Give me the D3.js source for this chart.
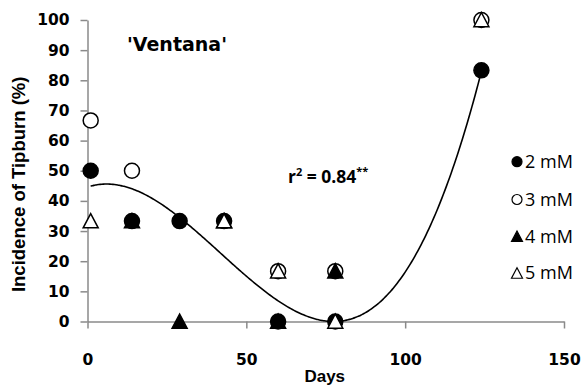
<!DOCTYPE html>
<html>
<head>
<meta charset="utf-8">
<script src="https://cdn.jsdelivr.net/npm/d3@7"></script>
<style>
  html, body { margin: 0; padding: 0; background: #fff; }
  svg { display: block; }
</style>
</head>
<body>
<svg id="chart" width="583" height="387"></svg>
<script>
// Sampling days and tipburn incidence (%) for each calcium concentration
const days = [1, 14, 29, 43, 60, 78, 124];
const mM2 = [50, 33.3, 33.3, 33.3, 0, 0, 83.3];
const mM3 = [66.7, 50, null, null, 16.7, 16.7, 100];
const mM4 = [null, 33.3, 0, 33.3, 0, 16.7, null];
const mM5 = [33.3, null, null, 33.3, 16.7, 0, 100];

const seriesNames = ["2 mM", "3 mM", "4 mM", "5 mM"];
const xTicks = [0, 50, 100, 150];
const yTicks = [0, 10, 20, 30, 40, 50, 60, 70, 80, 90, 100];

// Cubic trend: a*x^3 + b*x^2 + c*x + d, fitted over days 1..124
const trendCoef = [2.495e-4, -0.03125, 0.3481, 44.58];
const trendDomain = [1, 124];

const svg = d3.select("#chart");
const x = d3.scaleLinear().domain([0, 150]).range([87.5, 564]);
const y = d3.scaleLinear().domain([0, 100]).range([321.5, 20]);

const axisColor = "#8a8a8a";
const tickFont = "'DejaVu Sans', Verdana, sans-serif";

// Y axis
const gy = svg.append("g")
  .attr("transform", `translate(${x(0)},0)`)
  .call(d3.axisLeft(y).tickValues(yTicks).tickSize(7).tickSizeOuter(0).tickPadding(11));
gy.select(".domain").attr("stroke", axisColor).attr("stroke-width", 1.5);
gy.selectAll(".tick line").attr("stroke", axisColor).attr("stroke-width", 1.5);
gy.selectAll(".tick text")
  .attr("fill", "#000").style("font-family", tickFont)
  .style("font-size", "15.5px").style("font-weight", "bold");

// X axis
const gx = svg.append("g")
  .attr("transform", `translate(0,${y(0)})`)
  .call(d3.axisBottom(x).tickValues(xTicks).tickSize(7).tickSizeOuter(0).tickPadding(25));
gx.select(".domain").attr("stroke", axisColor).attr("stroke-width", 1.5);
gx.selectAll(".tick line").attr("stroke", axisColor).attr("stroke-width", 1.5);
gx.selectAll(".tick text")
  .attr("fill", "#000").style("font-family", tickFont)
  .style("font-size", "15.5px").style("font-weight", "bold");

// Axis titles
svg.append("text")
  .attr("x", x(75) - 1).attr("y", 382)
  .attr("text-anchor", "middle")
  .style("font-family", "'Liberation Sans', Arial, sans-serif")
  .style("font-size", "17px").style("font-weight", "bold")
  .text("Days");

svg.append("text")
  .attr("transform", `translate(25,${y(45.5)}) rotate(-90)`)
  .attr("text-anchor", "middle")
  .style("font-family", "'Liberation Sans', Arial, sans-serif")
  .style("font-size", "18.5px").style("font-weight", "bold")
  .text("Incidence of Tipburn (%)");

// Cultivar name
svg.append("text")
  .attr("x", 127).attr("y", 51)
  .style("font-family", tickFont)
  .style("font-size", "19px").style("font-weight", "bold")
  .text("'Ventana'");

// Trend line
const trend = d => trendCoef[0] * d ** 3 + trendCoef[1] * d ** 2 + trendCoef[2] * d + trendCoef[3];
const trendPts = d3.range(trendDomain[0], trendDomain[1] + 0.01, 0.5).map(d => [d, trend(d)]);
svg.append("path")
  .datum(trendPts)
  .attr("fill", "none").attr("stroke", "#000").attr("stroke-width", 1.6)
  .attr("d", d3.line().x(d => x(d[0])).y(d => y(d[1])).curve(d3.curveBasis));

// r^2 annotation
const r2 = svg.append("text")
  .attr("x", 288).attr("y", 183)
  .style("font-family", "'Open Sans', sans-serif")
  .style("font-size", "17.5px").style("font-weight", "bold");
r2.append("tspan").text("r");
r2.append("tspan").attr("dy", -7).style("font-size", "11px").text("2");
r2.append("tspan").attr("dy", 7).text(" = 0.84");
r2.append("tspan").attr("dy", -8).style("font-size", "11px").text("**");

// Marker shapes per series
const circle = d3.symbol().type(d3.symbolCircle);
const styles = [
  { vals: mM2, shape: "circle", fill: "#000" },
  { vals: mM3, shape: "circle", fill: "#fff" },
  { vals: mM4, shape: "triangle", fill: "#000" },
  { vals: mM5, shape: "triangle", fill: "#fff" }
];

function markerPath(shape, size) {
  if (shape === "circle") return circle.size(Math.PI * size * size)();
  const s = size;
  return `M0,${-s}L${s},${s * 0.9}L${-s},${s * 0.9}Z`;
}

styles.forEach(st => {
  const pts = days.map((d, i) => ({ d, v: st.vals[i] })).filter(p => p.v !== null);
  svg.append("g").selectAll("path")
    .data(pts).join("path")
    .attr("transform", p => `translate(${x(p.d)},${y(p.v)})`)
    .attr("d", markerPath(st.shape, 7.5))
    .attr("fill", st.fill)
    .attr("stroke", "#000").attr("stroke-width", 1.5);
});

// Legend
const legendY = [161.7, 199.5, 236.5, 273.3];
styles.forEach((st, i) => {
  svg.append("path")
    .attr("transform", `translate(517,${legendY[i]})`)
    .attr("d", markerPath(st.shape, st.shape === "circle" ? 5 : 5.5))
    .attr("fill", st.fill).attr("stroke", "#000").attr("stroke-width", 1.2);
  svg.append("text")
    .attr("x", 525).attr("y", legendY[i] + 6)
    .style("font-family", "'Open Sans', sans-serif")
    .style("font-size", "18px")
    .text(seriesNames[i]);
});
</script>
</body>
</html>
